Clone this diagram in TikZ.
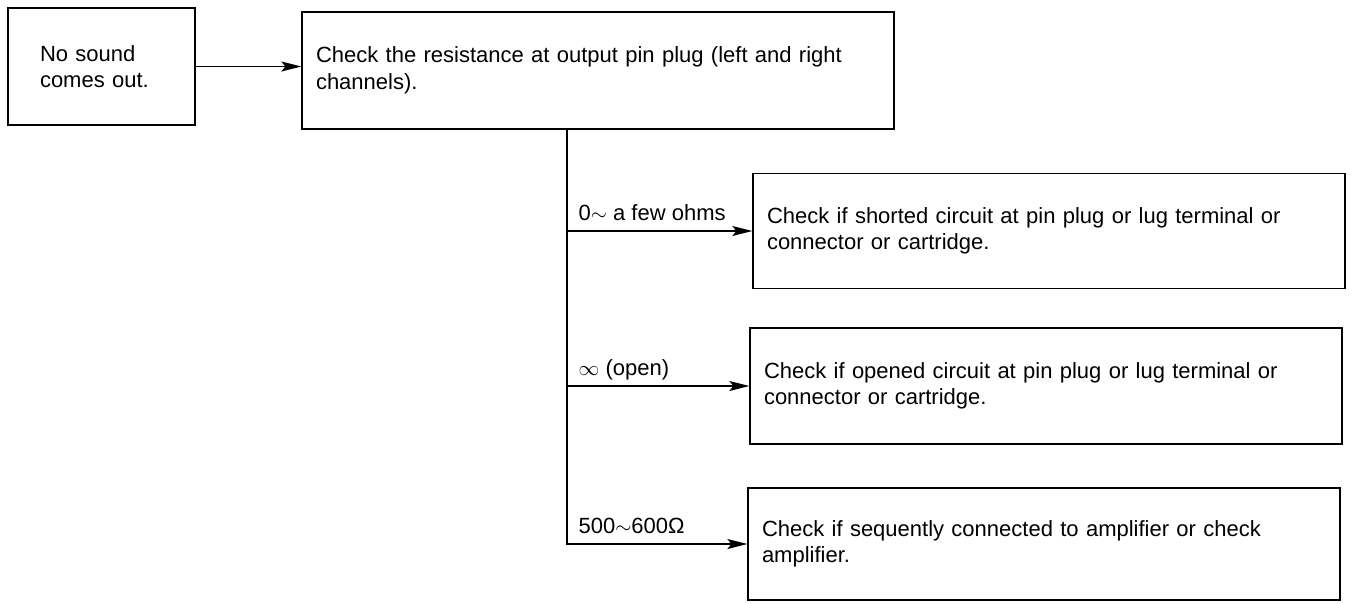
\documentclass[tikz,border=0pt]{standalone}
\usepackage{fontspec}
\setmainfont{Liberation Sans}
\usetikzlibrary{positioning, arrows.meta, calc}
\newcommand{\chartfont}{\fontsize{22}{26.5}\selectfont}

\begin{document}
\begin{tikzpicture}[
    x=1pt, y=-1pt,
    >={Stealth[length=20pt, width=10pt, inset=4pt]},
    line width=1.3pt,
    chk/.style={draw, align=left, font=\chartfont,
                inner xsep=14pt, text width=564pt},
    cond/.style={font=\chartfont, inner sep=0pt, anchor=base west,
                 xshift=11pt, yshift=11pt}
]
\useasboundingbox (0,0) rectangle (1352,603);

%---------------- Symptom and first check ----------------
\node[chk, inner xsep=32pt, text width=123pt, minimum height=117pt]
    (symptom) at (101.5,66.5) {No sound\\comes out.};
\node[chk, minimum height=117pt] (measure) at (598,70.5)
    {Check the resistance at output pin plug (left and right\\channels).};

\draw[->] (symptom.east) -- (symptom.east -| measure.west);

%---------------- Remedies ----------------
\node[chk, minimum height=115pt] (shorted) at (1049,231)
    {Check if shorted circuit at pin plug or lug terminal or\\connector or cartridge.};
\node[chk, minimum height=116pt] (opened) at (1046,386)
    {Check if opened circuit at pin plug or lug terminal or\\connector or cartridge.};
\node[chk, minimum height=112pt] (amp) at (1044,544)
    {Check if sequently connected to amplifier or check\\amplifier.};

%---------------- Branches by resistance ----------------
\coordinate (trunk) at ($(measure.south)+(-31,0)$);

\draw[->] (trunk) |- (shorted.west) node[cond, pos=0.5] {0$\sim$ a few ohms};
\draw[->] (trunk) |- (opened.west) node[cond, pos=0.5] {$\infty$ (open)};
\draw[->] (trunk) |- (amp.west) node[cond, pos=0.5] {500$\sim$600Ω};

\end{tikzpicture}
\end{document}
